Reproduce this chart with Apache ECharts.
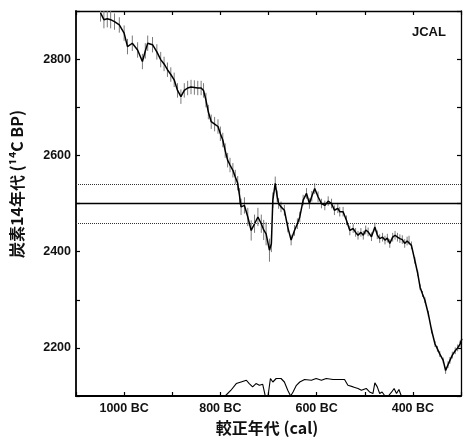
<!DOCTYPE html>
<html>
<head>
<meta charset="utf-8">
<script src="https://cdn.jsdelivr.net/npm/echarts@6/dist/echarts.min.js"></script>
<style>
  html, body { margin: 0; padding: 0; background: #fff; }
  #chart { width: 466px; height: 438px; }
</style>
</head>
<body>
<div id="chart"></div>
<script>
// 較正曲線 (JCAL): 暦年 (BC) と 14C 年代
const calYears = [
  1049, 1042, 1035, 1028, 1020, 1010, 1000, 993, 983, 972, 962, 956, 951, 941, 932, 924,
  917, 910, 903, 896, 889, 882, 875, 868, 861, 854, 847, 840, 835, 830, 825, 819,
  812, 805, 800, 795, 790, 785, 780, 774, 769, 764, 760, 757, 750, 743, 736, 729,
  722, 715, 710, 705, 698, 694, 691, 686, 682, 679, 674, 667, 660, 653, 646, 640,
  635, 628, 621, 615, 610, 604, 597, 590, 583, 576, 569, 563, 556, 552, 545, 538,
  531, 524, 519, 514, 508, 503, 498, 493, 486, 479, 474, 469, 463, 458, 453, 448,
  442, 437, 432, 427, 422, 417, 412, 408, 403, 396, 390, 385, 380, 375, 368, 361,
  354, 349, 344, 337, 332, 327, 323, 318, 312, 307, 302, 298
];
const c14Age = [
  2896, 2882, 2884, 2882, 2878, 2871, 2854, 2826, 2833, 2819, 2795, 2817, 2833, 2830, 2815, 2799,
  2790, 2778, 2768, 2757, 2735, 2722, 2735, 2740, 2742, 2741, 2740, 2740, 2735, 2715, 2690, 2670,
  2665, 2660, 2645, 2632, 2610, 2590, 2580, 2569, 2555, 2542, 2515, 2493, 2496, 2472, 2444, 2458,
  2472, 2458, 2445, 2437, 2403, 2417, 2507, 2542, 2515, 2500, 2493, 2486, 2451, 2424, 2444, 2458,
  2472, 2507, 2521, 2500, 2515, 2531, 2514, 2500, 2496, 2505, 2500, 2486, 2490, 2483, 2483, 2465,
  2444, 2448, 2440, 2434, 2440, 2434, 2445, 2441, 2431, 2451, 2435, 2427, 2430, 2424, 2428, 2417,
  2430, 2434, 2430, 2427, 2425, 2417, 2422, 2424, 2413, 2382, 2355, 2326, 2312, 2299, 2271, 2236,
  2208, 2198, 2187, 2174, 2153, 2165, 2174, 2185, 2194, 2200, 2208, 2219
];
const c14Err = [
  18, 18, 18, 18, 17, 16, 16, 16, 16, 16, 16, 16, 16, 16, 16, 16,
  15, 15, 15, 15, 15, 15, 15, 15, 15, 15, 15, 15, 15, 15, 15, 15,
  15, 15, 15, 15, 15, 15, 15, 15, 15, 15, 17, 17, 17, 19, 21, 19,
  19, 19, 21, 24, 24, 18, 16, 14, 12, 11, 11, 11, 11, 11, 11, 11,
  11, 11, 11, 11, 11, 11, 11, 10, 10, 10, 10, 10, 10, 10, 10, 10,
  10, 9, 9, 9, 9, 9, 9, 9, 9, 9, 9, 9, 9, 9, 9, 9,
  9, 9, 9, 9, 9, 9, 9, 9, 8, 7, 6, 6, 6, 6, 6, 6,
  6, 6, 6, 6, 7, 7, 7, 7, 7, 7, 7, 7
];

// 測定値 2500 ± 40 BP
const sampleAge = 2500;
const sampleErr = 40;

// 較正年代の確率分布 (相対値)
const probYears = [
  790, 788, 778, 767, 757, 746, 740, 733, 726, 719, 712, 707, 701, 696, 691, 684,
  674, 667, 660, 654, 649, 642, 635, 625, 611, 601, 590, 580, 566, 552, 542, 535,
  524, 514, 507, 497, 490, 483, 479, 474, 469, 464, 458, 451, 444, 439, 434, 429, 424, 420
];
const probValues = [
  0, 0, 0.33, 0.71, 0.80, 0.90, 0.71, 0.52, 0.71, 0.61, 0.67, 0.04, 0, 1.0, 0.80, 1.0,
  1.0, 0.80, 0.33, 0, 0.23, 0.61, 0.80, 0.94, 0.90, 1.0, 0.90, 1.0, 0.94, 0.94, 0.94, 0.61,
  0.52, 0.43, 0.33, 0.43, 0.23, 0.14, 0.75, 0.52, 0.14, 0.23, 0, 0, 0.23, 0.43, 0.14, 0.37, 0, 0
];

const yTickLabels = [2200, 2400, 2600, 2800];
const xTickLabels = [1000, 800, 600, 400];

const chart = echarts.init(document.getElementById("chart"));

const curveData = calYears.map((y, i) => [y, c14Age[i]]);
const errData = calYears.map((y, i) => [y, c14Age[i] - c14Err[i], c14Age[i] + c14Err[i]]);
const probData = probYears.map((y, i) => [y, probValues[i]]);

const font = "Liberation Sans, Arial, sans-serif";
const cjkFont = "Noto Sans CJK JP, sans-serif";

const option = {
  animation: false,
  backgroundColor: "#fff",
  grid: { left: 76, right: 5, top: 11, bottom: 42 },
  xAxis: [
    {
      type: "value",
      min: 300,
      max: 1100,
      interval: 100,
      inverse: true,
      axisLine: { lineStyle: { color: "#000", width: 1.8 } },
      axisTick: { inside: true, length: 4, lineStyle: { color: "#000", width: 1.2 } },
      axisLabel: {
        margin: 6,
        fontFamily: font,
        fontSize: 12.5,
        fontWeight: "bold",
        color: "#111",
        formatter: (v) => (xTickLabels.includes(v) ? v + " BC" : ""),
      },
      splitLine: { show: false },
    },
    {
      type: "value",
      position: "top",
      min: 300,
      max: 1100,
      interval: 100,
      inverse: true,
      axisLine: { lineStyle: { color: "#000", width: 1.3 } },
      axisTick: { inside: true, length: 4, lineStyle: { color: "#000", width: 1.2 } },
      axisLabel: { show: false },
      splitLine: { show: false },
    },
  ],
  yAxis: [
    {
      type: "value",
      min: 2100,
      max: 2900,
      interval: 100,
      axisLine: { show: true, lineStyle: { color: "#000", width: 1.8 } },
      axisTick: { inside: true, length: 4, lineStyle: { color: "#000", width: 1.2 } },
      axisLabel: {
        margin: 5,
        fontFamily: font,
        fontSize: 12.5,
        fontWeight: "bold",
        color: "#111",
        formatter: (v) => (yTickLabels.includes(v) ? String(v) : ""),
      },
      splitLine: { show: false },
    },
    {
      type: "value",
      position: "right",
      min: 2100,
      max: 2900,
      interval: 100,
      axisLine: { show: true, lineStyle: { color: "#000", width: 1.3 } },
      axisTick: { inside: true, length: 4, lineStyle: { color: "#000", width: 1.2 } },
      axisLabel: { show: false },
      splitLine: { show: false },
    },
    {
      type: "value",
      show: false,
      min: 0,
      max: 22,
    },
  ],
  graphic: [
    {
      type: "text",
      left: 412,
      top: 26,
      style: { text: "JCAL", font: "bold 13px " + font, fill: "#111" },
    },
    {
      type: "text",
      x: 17,
      y: 184,
      rotation: Math.PI / 2,
      style: {
        text: "炭素14年代 (¹⁴C BP)",
        font: "bold 16px " + cjkFont,
        fill: "#111",
        align: "center",
        verticalAlign: "middle",
      },
    },
    {
      type: "text",
      x: 267,
      y: 428,
      style: {
        text: "較正年代 (cal)",
        font: "bold 16px " + cjkFont,
        fill: "#111",
        align: "center",
        verticalAlign: "middle",
      },
    },
  ],
  series: [
    {
      name: "err",
      type: "custom",
      xAxisIndex: 0,
      yAxisIndex: 0,
      data: errData,
      clip: true,
      renderItem: (params, api) => {
        const lo = api.coord([api.value(0), api.value(1)]);
        const hi = api.coord([api.value(0), api.value(2)]);
        return {
          type: "line",
          shape: { x1: lo[0], y1: lo[1], x2: hi[0], y2: hi[1] },
          style: { stroke: "#7a7a7a", lineWidth: 1 },
        };
      },
      z: 2,
    },
    {
      name: "JCAL",
      type: "line",
      xAxisIndex: 0,
      yAxisIndex: 0,
      data: curveData,
      symbol: "none",
      clip: true,
      lineStyle: { color: "#000", width: 1.5 },
      z: 3,
      markLine: {
        silent: true,
        symbol: "none",
        label: { show: false },
        data: [
          { yAxis: sampleAge, lineStyle: { type: "solid", color: "#000", width: 1.3 } },
          { yAxis: sampleAge + sampleErr, lineStyle: { type: "dotted", color: "#333", width: 1 } },
          { yAxis: sampleAge - sampleErr, lineStyle: { type: "dotted", color: "#333", width: 1 } },
        ],
      },
    },
    {
      name: "prob",
      type: "line",
      xAxisIndex: 0,
      yAxisIndex: 2,
      data: probData,
      symbol: "none",
      lineStyle: { color: "#000", width: 1.1 },
      z: 3,
    },
  ],
};

chart.setOption(option);
</script>
</body>
</html>
